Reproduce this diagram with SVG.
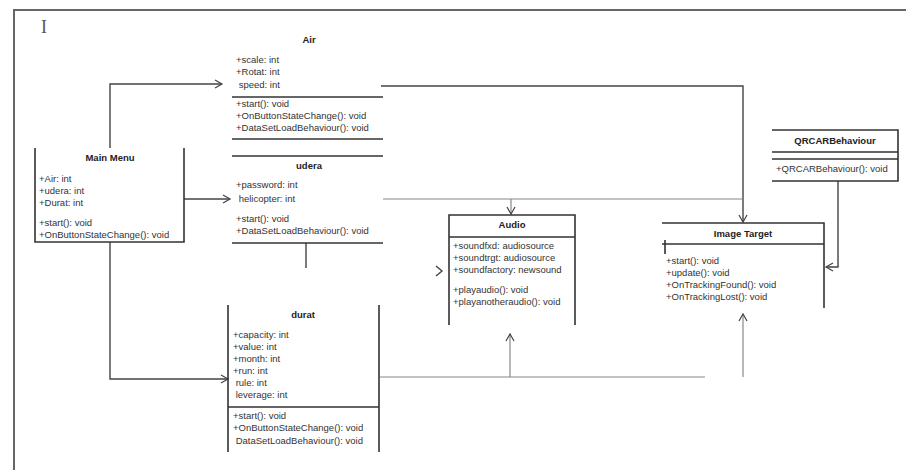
<svg xmlns="http://www.w3.org/2000/svg" width="906" height="470" viewBox="0 0 906 470">
<defs>
<style>
.t{font-family:"Liberation Sans",Arial,sans-serif;font-size:9.5px;fill:#333;white-space:pre}
.h{font-family:"Liberation Sans",Arial,sans-serif;font-size:9.5px;font-weight:bold;fill:#222;text-anchor:middle}
.b{stroke:#333;stroke-width:1.6;fill:none}
.c{stroke:#444;stroke-width:1.4;fill:none}
.f{stroke:#888;stroke-width:1.2;fill:none}
</style>
<marker id="a" markerWidth="10" markerHeight="10" refX="8" refY="5" orient="auto" markerUnits="userSpaceOnUse">
<path d="M1,1 L8,5 L1,9" fill="none" stroke="#444" stroke-width="1.2"/>
</marker>
</defs>
<rect width="906" height="470" fill="#fff"/>
<g id="frame">
<path d="M14,470 V10 H906" stroke="#666" stroke-width="2" fill="none"/>
<text x="41" y="33" font-family="Liberation Serif,serif" font-size="18" fill="#555">I</text>
</g>
<g id="connectors">
<path class="c" d="M110,148 V84 H222" marker-end="url(#a)"/>
<path class="c" d="M184,199 H230" marker-end="url(#a)"/>
<path class="c" d="M110,242 V379 H228" marker-end="url(#a)"/>
<path class="c" d="M381,86 H743 V222" marker-end="url(#a)"/>
<path class="f" d="M383,199 H743"/>
<path class="f" d="M511,199 V214" marker-end="url(#a)"/>
<path class="c" d="M306,243 V268"/>
<path class="c" d="M838,181 V267 H826" marker-end="url(#a)"/>
<path class="f" d="M380,377 H705"/>
<path class="f" d="M510,377 V334" marker-end="url(#a)"/>
<path class="f" d="M743,377 V314" marker-end="url(#a)"/>
<path class="c" d="M436,266 L442,271 L436,276"/>
</g>
<g id="air">
<text class="h" x="309" y="43">Air</text>
<text class="t" x="236" y="63">+scale: int</text>
<text class="t" x="236" y="75">+Rotat: int</text>
<text class="t" x="236" y="88" xml:space="preserve"> speed: int</text>
<path class="b" d="M232,97 H383"/>
<text class="t" x="236" y="107">+start(): void</text>
<text class="t" x="236" y="119">+OnButtonStateChange(): void</text>
<text class="t" x="236" y="131">+DataSetLoadBehaviour(): void</text>
<path class="b" d="M232,139 H383"/>
</g>
<g id="mainmenu">
<path class="b" d="M35,148 V242 H184 V148"/>
<text class="h" x="110" y="161">Main Menu</text>
<text class="t" x="39" y="182">+Air: int</text>
<text class="t" x="39" y="194">+udera: int</text>
<text class="t" x="39" y="206">+Durat: int</text>
<text class="t" x="39" y="226">+start(): void</text>
<text class="t" x="39" y="238">+OnButtonStateChange(): void</text>
</g>
<g id="udera">
<path class="b" d="M232,156 H383"/>
<text class="h" x="309" y="169">udera</text>
<text class="t" x="236" y="188">+password: int</text>
<text class="t" x="236" y="202" xml:space="preserve"> helicopter: int</text>
<text class="t" x="236" y="222">+start(): void</text>
<text class="t" x="236" y="234">+DataSetLoadBehaviour(): void</text>
<path class="b" d="M232,243 H383"/>
</g>
<g id="durat">
<path class="b" d="M228,305 V452 M379,305 V452 M228,407 H379"/>
<text class="h" x="303" y="318">durat</text>
<text class="t" x="233" y="338">+capacity: int</text>
<text class="t" x="233" y="350">+value: int</text>
<text class="t" x="233" y="362">+month: int</text>
<text class="t" x="233" y="374">+run: int</text>
<text class="t" x="233" y="386" xml:space="preserve"> rule: int</text>
<text class="t" x="233" y="398" xml:space="preserve"> leverage: int</text>
<text class="t" x="233" y="419">+start(): void</text>
<text class="t" x="233" y="431">+OnButtonStateChange(): void</text>
<text class="t" x="233" y="444" xml:space="preserve"> DataSetLoadBehaviour(): void</text>
</g>
<g id="audio">
<path class="b" d="M449,325 V215 H575 V325 M449,237 H575"/>
<text class="h" x="512" y="228">Audio</text>
<text class="t" x="453" y="249">+soundfxd: audiosource</text>
<text class="t" x="453" y="261">+soundtrgt: audiosource</text>
<text class="t" x="453" y="273">+soundfactory: newsound</text>
<text class="t" x="453" y="293">+playaudio(): void</text>
<text class="t" x="453" y="305">+playanotheraudio(): void</text>
</g>
<g id="imagetarget">
<path class="b" d="M662,223 H824 V308 M662,244 H824 M665,240 V254"/>
<text class="h" x="743" y="237">Image Target</text>
<text class="t" x="666" y="264">+start(): void</text>
<text class="t" x="666" y="276">+update(): void</text>
<text class="t" x="666" y="288">+OnTrackingFound(): void</text>
<text class="t" x="666" y="300">+OnTrackingLost(): void</text>
</g>
<g id="qrcar">
<path class="b" d="M772,130 H898 V181 H772 M772,152 H898 M772,159 H898"/>
<text class="h" x="835" y="144">QRCARBehaviour</text>
<text class="t" x="776" y="172">+QRCARBehaviour(): void</text>
</g>
</svg>
